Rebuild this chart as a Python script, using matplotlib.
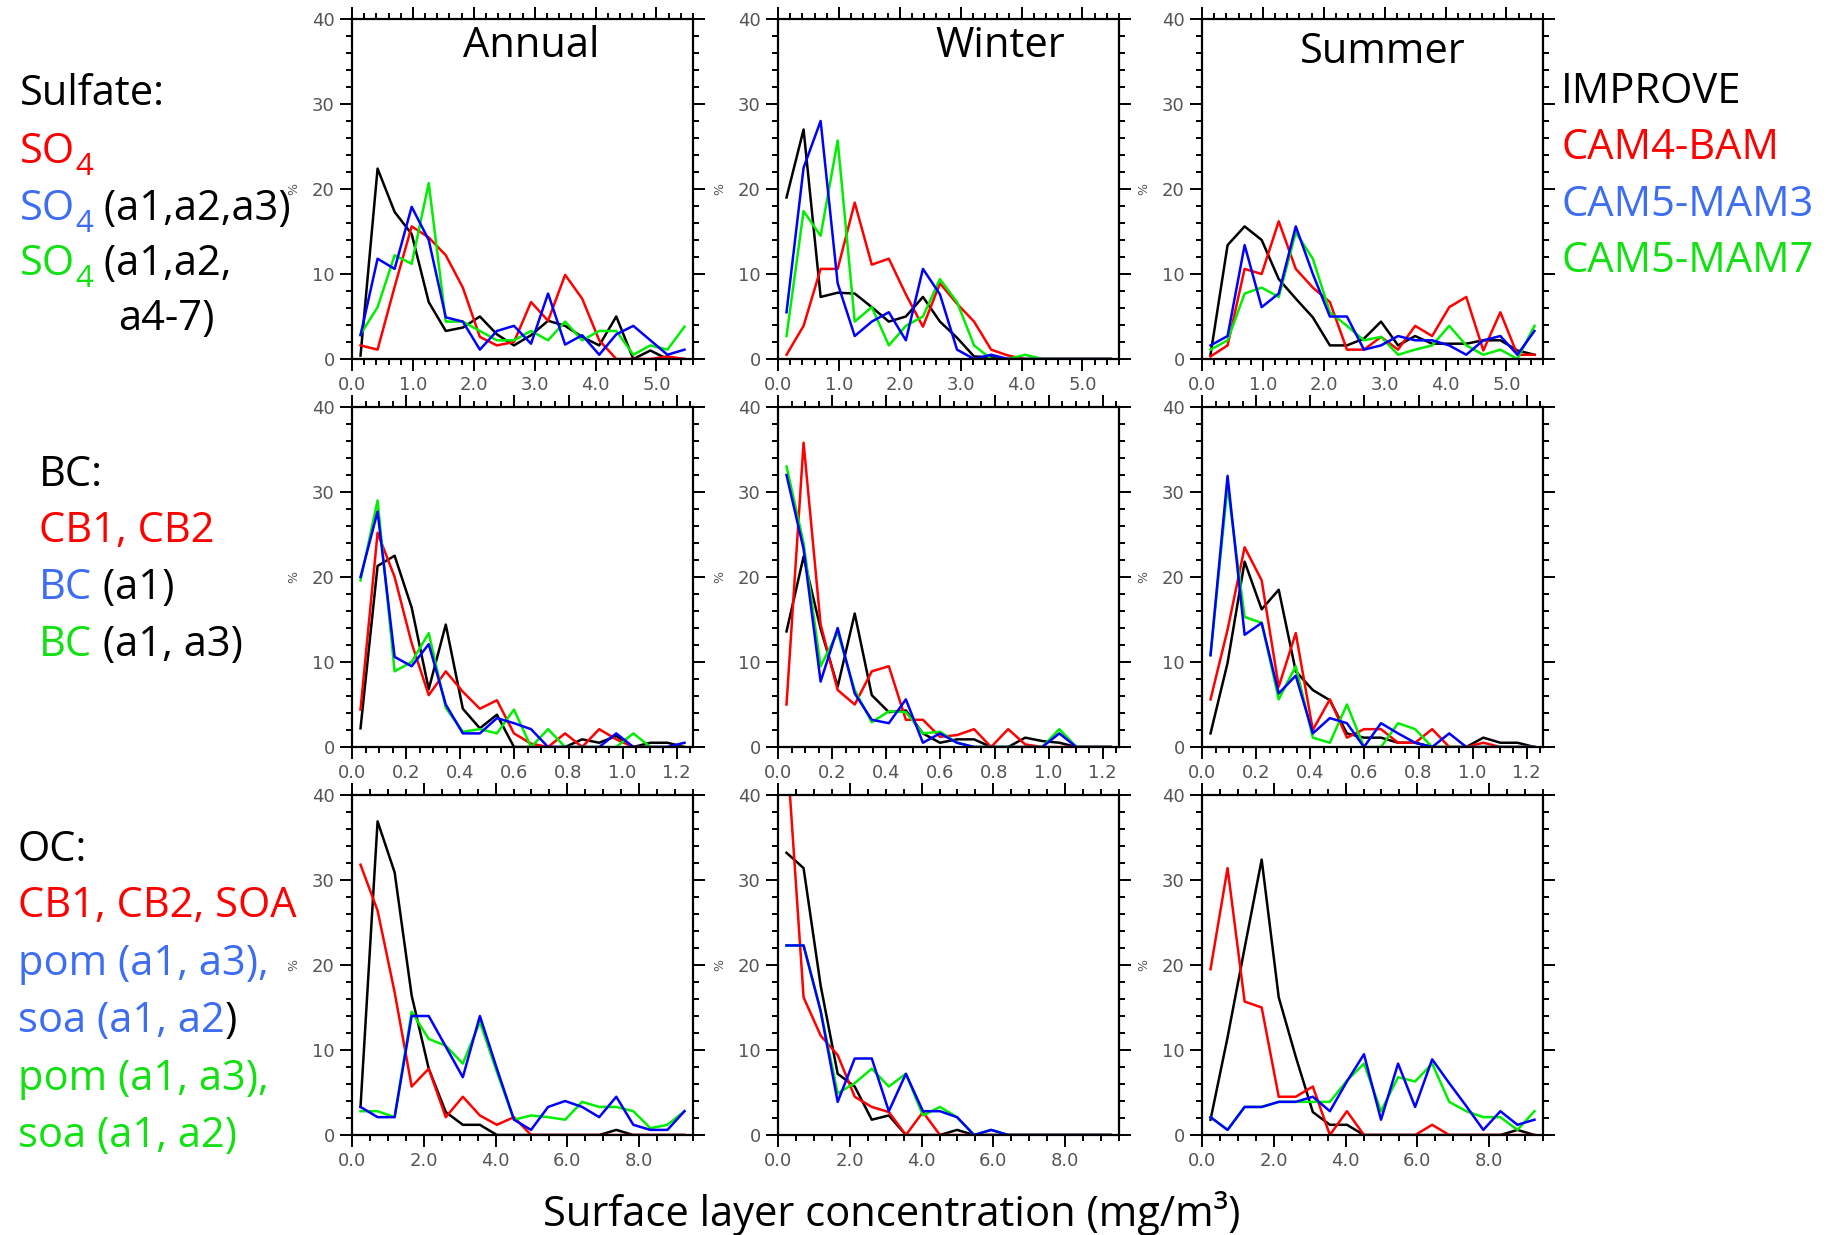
import matplotlib
matplotlib.use("Agg")
import matplotlib.pyplot as plt
from matplotlib.ticker import MultipleLocator, FormatStrFormatter
import numpy as np

W, H = 1841, 1235

# ---- data: % of sites per concentration bin (20 bins per panel) ----
# x-range of the bins for each row (sulfate, BC, OC)
row_xmax = [5.6, 1.26, 9.5]
n_bins = 20

# Sulfate
so4_ann_obs = [0.4, 22.4, 17.3, 14.7, 6.7, 3.3, 3.7, 5.0, 2.9, 1.6, 2.8, 4.5, 3.9, 2.6, 1.6, 5.0, 0, 1.0, 0, 0]
so4_ann_bam = [1.6, 1.1, 8.5, 15.6, 14.3, 12.2, 8.4, 2.6, 1.6, 2.0, 6.7, 4.5, 9.9, 7.1, 2.2, 0, 0, 0, 0.3, 0]
so4_ann_mam3 = [2.8, 11.8, 10.6, 17.9, 14.0, 4.9, 4.4, 1.1, 3.3, 3.9, 1.8, 7.7, 1.7, 2.8, 0.5, 2.9, 3.9, 2.2, 0.5, 1.1]
so4_ann_mam7 = [2.9, 6.1, 12.2, 11.2, 20.7, 4.4, 4.4, 3.3, 2.2, 2.2, 3.3, 2.2, 4.4, 2.2, 3.3, 3.3, 0.5, 1.6, 1.1, 3.8]

so4_win_obs = [19.0, 27.0, 7.3, 7.8, 7.7, 6.1, 4.4, 5.0, 7.3, 4.4, 2.5, 0.3, 0.2, 0, 0, 0, 0, 0, 0, 0]
so4_win_bam = [0.5, 3.9, 10.6, 10.6, 18.4, 11.1, 11.8, 7.6, 3.8, 8.9, 6.5, 4.4, 1.1, 0.4, 0, 0, 0, 0, 0, 0]
so4_win_mam3 = [5.5, 22.5, 28.0, 8.9, 2.7, 4.4, 5.5, 2.2, 10.6, 7.6, 1.1, 0, 0.5, 0, 0, 0, 0, 0, 0, 0]
so4_win_mam7 = [2.7, 17.4, 14.5, 25.7, 4.4, 6.1, 1.6, 3.9, 5.0, 9.4, 6.7, 1.6, 0, 0, 0.5, 0, 0, 0, 0, 0]

so4_sum_obs = [0.5, 13.4, 15.6, 14.0, 9.4, 7.1, 4.9, 1.6, 1.6, 2.4, 4.4, 1.6, 2.7, 1.8, 1.8, 1.8, 2.2, 2.2, 1.0, 0.5]
so4_sum_bam = [0.3, 1.6, 10.6, 10.0, 16.2, 10.6, 8.4, 6.7, 1.1, 1.1, 2.6, 1.1, 3.9, 2.7, 6.1, 7.3, 1.0, 5.5, 0.5, 0.5]
so4_sum_mam3 = [1.6, 2.7, 13.4, 6.1, 7.7, 15.6, 10.0, 5.0, 5.0, 1.1, 1.6, 2.7, 2.2, 2.2, 1.6, 0.5, 2.2, 2.7, 0.5, 3.3]
so4_sum_mam7 = [1.1, 2.2, 7.7, 8.4, 7.3, 14.9, 11.8, 5.5, 3.9, 2.2, 2.6, 0.5, 1.1, 1.6, 3.9, 1.6, 0.5, 1.1, 0, 3.9]

# Black carbon
bc_ann_obs = [2.2, 21.3, 22.5, 16.4, 6.8, 14.4, 4.5, 2.2, 3.8, 0, 0, 0, 0, 0.9, 0.5, 1.3, 0, 0.5, 0.5, 0]
bc_ann_bam = [4.4, 25.2, 20.0, 12.2, 6.1, 8.9, 6.5, 4.5, 5.5, 1.6, 0.4, 0, 1.6, 0, 2.1, 0.9, 0, 0, 0, 0]
bc_ann_mam3 = [20.0, 27.7, 10.6, 9.5, 12.1, 5.0, 1.6, 1.6, 3.4, 2.8, 2.1, 0, 0, 0, 0, 1.6, 0, 0, 0, 0.5]
bc_ann_mam7 = [19.6, 29.0, 8.9, 10.0, 13.4, 4.6, 1.8, 2.1, 1.6, 4.4, 0, 2.1, 0, 0, 0, 0, 1.6, 0, 0, 0]

bc_win_obs = [13.6, 22.4, 13.9, 7.1, 15.7, 6.1, 4.1, 4.3, 1.6, 0.5, 0.9, 0.9, 0, 0, 1.1, 0.7, 0.5, 0, 0, 0]
bc_win_bam = [5.0, 35.8, 14.4, 6.7, 5.0, 8.9, 9.5, 3.2, 3.2, 1.2, 1.4, 2.1, 0, 2.1, 0.3, 0, 0, 0, 0, 0]
bc_win_mam3 = [32.0, 23.3, 7.7, 14.0, 6.3, 3.2, 2.8, 5.6, 0.5, 1.6, 0.5, 0, 0, 0, 0, 0, 1.6, 0, 0, 0]
bc_win_mam7 = [33.0, 24.0, 9.5, 13.5, 6.7, 2.9, 4.2, 4.1, 1.6, 1.8, 0.5, 0, 0, 0, 0, 0, 2.1, 0, 0, 0]

bc_sum_obs = [1.6, 9.9, 21.8, 16.2, 18.5, 8.9, 6.7, 5.5, 1.6, 1.1, 1.1, 0.5, 0.5, 0, 0, 0, 1.1, 0.5, 0.5, 0]
bc_sum_bam = [5.6, 13.8, 23.5, 19.6, 7.1, 13.4, 2.0, 5.6, 1.1, 2.1, 2.1, 0.5, 0.5, 2.1, 0, 0, 0.5, 0, 0, 0]
bc_sum_mam3 = [10.8, 31.9, 13.2, 14.6, 6.3, 8.4, 1.6, 3.4, 2.8, 0, 2.8, 1.6, 0.5, 0, 1.6, 0, 0, 0, 0, 0]
bc_sum_mam7 = [10.8, 30.7, 15.3, 14.6, 5.6, 9.5, 1.1, 0.5, 5.0, 0, 0, 2.8, 2.1, 0, 0, 0, 0, 0, 0, 0]

# Organic carbon
oc_ann_obs = [3.3, 36.9, 30.9, 16.4, 7.8, 2.7, 1.2, 1.2, 0, 0, 0, 0, 0, 0, 0, 0.6, 0, 0, 0, 0]
oc_ann_bam = [31.8, 26.4, 16.8, 5.7, 7.8, 2.1, 4.5, 2.3, 1.2, 2.1, 0, 0, 0, 0, 0, 0, 0, 0, 0, 0]
oc_ann_mam3 = [3.3, 2.1, 2.1, 14.0, 14.0, 10.4, 6.8, 14.0, 7.8, 1.8, 0.6, 3.3, 4.0, 3.3, 2.1, 4.5, 1.2, 0.6, 0.6, 2.8]
oc_ann_mam7 = [2.8, 2.8, 2.1, 14.5, 11.3, 10.5, 8.4, 13.3, 7.4, 1.8, 2.3, 2.1, 1.8, 3.9, 3.3, 3.3, 2.8, 0.8, 1.2, 2.8]

oc_win_obs = [33.2, 31.4, 17.6, 7.2, 5.7, 1.8, 2.3, 0, 0, 0, 0.6, 0, 0, 0, 0, 0, 0, 0, 0, 0]
oc_win_bam = [46.0, 16.2, 11.7, 9.4, 4.5, 3.3, 2.7, 0, 2.7, 0, 0, 0, 0, 0, 0, 0, 0, 0, 0, 0]
oc_win_mam3 = [22.3, 22.3, 14.6, 3.9, 9.0, 9.0, 2.8, 7.2, 2.8, 2.8, 2.1, 0, 0.6, 0, 0, 0, 0, 0, 0, 0]
oc_win_mam7 = [22.3, 22.3, 14.6, 4.9, 6.1, 7.8, 5.7, 7.2, 2.3, 3.3, 2.1, 0, 0.6, 0, 0, 0, 0, 0, 0, 0]

oc_sum_obs = [1.8, 11.5, 22.0, 32.4, 16.2, 9.2, 2.7, 1.2, 1.2, 0, 0, 0, 0, 0, 0, 0, 0, 0, 0.6, 0]
oc_sum_bam = [19.5, 31.4, 15.7, 15.0, 4.5, 4.5, 5.7, 0, 2.8, 0, 0, 0, 0, 1.2, 0, 0, 0, 0, 0, 0]
oc_sum_mam3 = [2.1, 0.6, 3.3, 3.3, 3.9, 3.9, 4.5, 2.8, 6.3, 9.5, 1.8, 8.4, 3.3, 8.9, 6.1, 3.4, 0.6, 2.8, 1.2, 1.8]
oc_sum_mam7 = [2.1, 0.6, 3.3, 3.3, 3.9, 3.9, 3.9, 3.9, 6.4, 8.4, 2.8, 6.8, 6.3, 8.4, 3.9, 2.8, 2.1, 2.1, 0.6, 2.8]

panels = [
    [(so4_ann_obs, so4_ann_bam, so4_ann_mam3, so4_ann_mam7),
     (so4_win_obs, so4_win_bam, so4_win_mam3, so4_win_mam7),
     (so4_sum_obs, so4_sum_bam, so4_sum_mam3, so4_sum_mam7)],
    [(bc_ann_obs, bc_ann_bam, bc_ann_mam3, bc_ann_mam7),
     (bc_win_obs, bc_win_bam, bc_win_mam3, bc_win_mam7),
     (bc_sum_obs, bc_sum_bam, bc_sum_mam3, bc_sum_mam7)],
    [(oc_ann_obs, oc_ann_bam, oc_ann_mam3, oc_ann_mam7),
     (oc_win_obs, oc_win_bam, oc_win_mam3, oc_win_mam7),
     (oc_sum_obs, oc_sum_bam, oc_sum_mam3, oc_sum_mam7)],
]
seasons = ["Annual", "Winter", "Summer"]
models = ["IMPROVE", "CAM4-BAM", "CAM5-MAM3", "CAM5-MAM7"]

# ---- style ----
line_colors = ["black", "#ff0000", "#0000ff", "#00ee00"]
text_colors = ["black", "#ff0000", "#3d6df2", "#11e011"]
draw_order = [0, 1, 3, 2]
row_major = [1.0, 0.2, 2.0]
row_minor = [0.2, 0.05, 0.5]
col_left = [352, 778, 1202]
row_top = [19, 407, 795]
ax_w, ax_h = 341, 340
TXT = "Open Sans"
FS = 30

fig = plt.figure(figsize=(W / 100, H / 100), dpi=100)

for r in range(3):
    centers = (np.arange(n_bins) + 0.5) * row_xmax[r] / n_bins
    for c in range(3):
        ax = fig.add_axes([col_left[c] / W, 1 - (row_top[r] + ax_h) / H, ax_w / W, ax_h / H])
        for k in draw_order:
            ax.plot(centers, panels[r][c][k], color=line_colors[k], lw=1.8)
        ax.set_xlim(0, row_xmax[r])
        ax.set_ylim(0, 40)
        ax.xaxis.set_major_locator(MultipleLocator(row_major[r]))
        ax.xaxis.set_minor_locator(MultipleLocator(row_minor[r]))
        ax.xaxis.set_major_formatter(FormatStrFormatter("%.1f"))
        ax.yaxis.set_major_locator(MultipleLocator(10))
        ax.yaxis.set_minor_locator(MultipleLocator(2))
        ax.tick_params(which="both", direction="out", top=True, right=True,
                       width=1.4, labelsize=13, labelcolor="#555555", pad=4)
        ax.tick_params(which="major", length=8.5)
        ax.tick_params(which="minor", length=4)
        for s in ax.spines.values():
            s.set_linewidth(1.6)
        ax.text(-0.17, 0.5, "%", transform=ax.transAxes, rotation=90,
                fontsize=9, color="#555555", ha="center", va="center")

# transparent overlay for all free text, above the panels
bg = fig.add_axes([0, 0, 1, 1], zorder=10)
bg.axis("off")
bg.set_xlim(0, 1)
bg.set_ylim(0, 1)

# season titles
title_pos = [(531, 57), (1000, 57), (1383, 63)]
for name, (x, y) in zip(seasons, title_pos):
    bg.text(x / W, 1 - y / H, name, fontsize=30, family=TXT, ha="center", va="baseline")

# model legend on the right
legend_base = [103, 159, 216, 272]
for name, col, y in zip(models, text_colors, legend_base):
    bg.text(1561 / W, 1 - y / H, name, fontsize=FS, family=TXT, color=col, va="baseline")


def text_line(x, y, parts):
    # parts: (string, colour, is_subscript); x, y in pixels, y is the baseline
    prev = None
    for s, col, sub in parts:
        fs = FS * 0.75 if sub else FS
        yy = 1 - (y + (12 if sub else 0)) / H
        if prev is None:
            t = bg.text(x / W, yy, s, fontsize=fs, family=TXT, color=col,
                        ha="left", va="baseline", transform=fig.transFigure)
        else:
            t = bg.annotate(s, xy=(1, yy), xycoords=(prev, "figure fraction"),
                            fontsize=fs, family=TXT, color=col, ha="left", va="baseline")
        prev = t


red, blue, green = text_colors[1], text_colors[2], text_colors[3]
text_line(20, 105, [("Sulfate:", "black", False)])
text_line(20, 163, [("SO", red, False), ("4", red, True)])
text_line(20, 220, [("SO", blue, False), ("4", blue, True), (" (a1,a2,a3)", "black", False)])
text_line(20, 275, [("SO", green, False), ("4", green, True), (" (a1,a2,", "black", False)])
text_line(118, 330, [("a4-7)", "black", False)])

text_line(39, 486, [("BC:", "black", False)])
text_line(39, 542, [("CB1, CB2", red, False)])
text_line(39, 599, [("BC", blue, False), (" (a1)", "black", False)])
text_line(39, 656, [("BC", green, False), (" (a1, a3)", "black", False)])

text_line(18, 861, [("OC:", "black", False)])
text_line(18, 917, [("CB1, CB2, SOA", red, False)])
text_line(18, 975, [("pom (a1, a3),", blue, False)])
text_line(18, 1032, [("soa (a1, a2", blue, False), (")", "black", False)])
text_line(18, 1090, [("pom (a1, a3),", green, False)])
text_line(18, 1147, [("soa (a1, a2)", green, False)])

bg.text(892 / W, 1 - 1226 / H, "Surface layer concentration (mg/m³)", fontsize=FS,
        family=TXT, ha="center", va="baseline")

fig.savefig("out.png", dpi=100)
